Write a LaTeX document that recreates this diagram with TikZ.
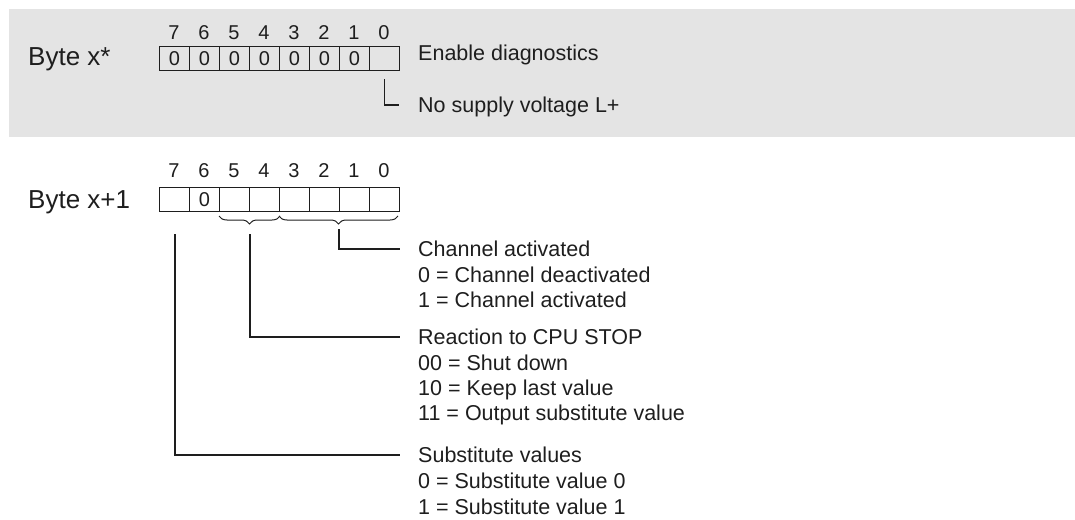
\documentclass[tikz,border=0pt]{standalone}
\usepackage{fontspec}
\setmainfont{Liberation Sans}
\usetikzlibrary{decorations.pathreplacing,calc}
\definecolor{band}{HTML}{E4E4E4}
\definecolor{ink}{HTML}{1E1E1E}
\begin{document}
\begin{tikzpicture}[x=1pt,y=-1pt,
  cellbox/.style={draw=ink, line width=1pt, minimum width=30pt, minimum height=24pt, inner sep=0pt, anchor=north west, font=\fontsize{20}{20}\selectfont, text=ink},
  bitnum/.style={inner sep=0pt, font=\fontsize{20}{20}\selectfont, text=ink},
  bytelbl/.style={inner sep=0pt, anchor=west, font=\fontsize{26}{26}\selectfont, text height=18pt, text depth=0pt, text=ink},
  desc/.style={inner sep=0pt, anchor=west, font=\fontsize{21.5}{21.5}\selectfont, text height=15.5pt, text depth=0pt, text=ink},
  conn/.style={draw=ink, line width=2pt},
  bracestyle/.style={draw=ink, line width=1pt, decorate, decoration={brace, mirror, amplitude=8pt}}
]
\useasboundingbox (0,0) rectangle (1075,519);
\fill[band] (9,9) rectangle (1075,137);

% Byte x*
\node[bytelbl] (bx) at (28,57) {Byte x*};
\foreach \b in {7,...,0}{
  \pgfmathsetmacro{\xx}{159+30*(7-\b)}
  \node[bitnum] (an\b) at (\xx+15,33) {\b};
}
\foreach \b in {7,...,1}{
  \pgfmathsetmacro{\xx}{159+30*(7-\b)}
  \node[cellbox] (a\b) at (\xx,46) {0};
}
\node[cellbox] (a0) at (369,46) {};
\node[desc] (en) at (418,53) {Enable diagnostics};
\node[desc] (nosup) at (418,105) {No supply voltage L+};
\draw[ink, line width=1.5pt] ([yshift=-8pt]a0.south) |- ([xshift=-19pt]nosup.west);

% Byte x+1
\node[bytelbl] (by) at (28,199) {Byte x+1};
\foreach \b in {7,...,0}{
  \pgfmathsetmacro{\xx}{159+30*(7-\b)}
  \node[bitnum] (bn\b) at (\xx+15,171) {\b};
}
\node[cellbox] (b7) at (159,187) {};
\node[cellbox] (b6) at (189,187) {0};
\node[cellbox] (b5) at (219,187) {};
\node[cellbox] (b4) at (249,187) {};
\node[cellbox] (b3) at (279,187) {};
\node[cellbox] (b2) at (309,187) {};
\node[cellbox] (b1) at (339,187) {};
\node[cellbox] (b0) at (369,187) {};

\draw[bracestyle] ([yshift=-4pt]b5.south west) -- ([yshift=-4pt]b4.south east);
\draw[bracestyle] ([yshift=-4pt]b3.south west) -- ([xshift=-2pt,yshift=-4pt]b0.south east);
\coordinate (t54) at ($([yshift=-4pt]b5.south west)!0.5!([yshift=-4pt]b4.south east)+(0,9)$);
\coordinate (t30) at ($([yshift=-4pt]b3.south west)!0.5!([xshift=-2pt,yshift=-4pt]b0.south east)+(0,9)$);

% descriptions
\node[desc] (ch) at (418,249) {Channel activated};
\node[desc] (ch0) at (418,275) {0 = Channel deactivated};
\node[desc] (ch1) at (418,300) {1 = Channel activated};
\node[desc] (re) at (418,337) {Reaction to CPU STOP};
\node[desc] (re0) at (418,363) {00 = Shut down};
\node[desc] (re1) at (418,388) {10 = Keep last value};
\node[desc] (re2) at (418,413) {11 = Output substitute value};
\node[desc] (su) at (418,455) {Substitute values};
\node[desc] (su0) at (418,481) {0 = Substitute value 0};
\node[desc] (su1) at (418,507) {1 = Substitute value 1};

% connectors
\draw[conn] ([yshift=-4pt]t30) |- ([xshift=-18pt]ch.west);
\draw[conn] ([yshift=-9pt]t54) |- ([xshift=-18pt]re.west);
\draw[conn] ([yshift=-22pt]b7.south) |- ([xshift=-18pt]su.west);
\end{tikzpicture}
\end{document}
